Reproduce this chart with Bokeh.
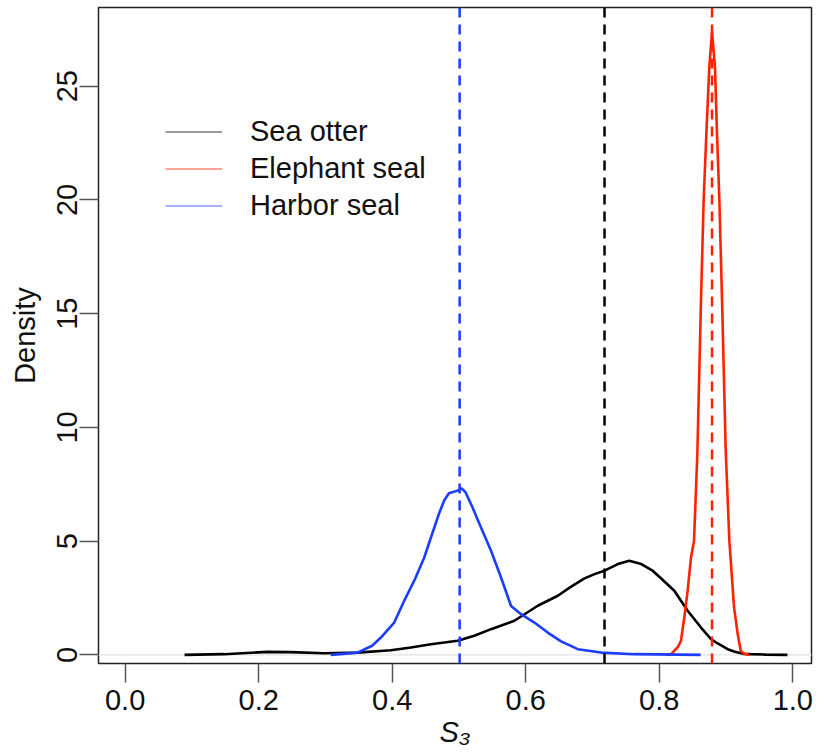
from bokeh.plotting import figure
from bokeh.models import Range1d, FixedTicker, Span, Legend, LegendItem
from bokeh.embed import file_html
from bokeh.resources import INLINE

# ---- data ----
sea_otter_x = [0.089, 0.148, 0.213, 0.248, 0.298, 0.348, 0.398, 0.428, 0.458, 0.498, 0.523,
               0.548, 0.583, 0.618, 0.648, 0.668, 0.688, 0.703, 0.718, 0.738, 0.755, 0.773,
               0.790, 0.8025, 0.8225, 0.8425, 0.8625, 0.8775, 0.8875, 0.9025, 0.912, 0.927,
               0.937, 0.960, 0.992]
sea_otter_y = [0.0, 0.03, 0.13, 0.12, 0.07, 0.10, 0.20, 0.32, 0.47, 0.62, 0.84,
               1.13, 1.50, 2.16, 2.60, 3.00, 3.36, 3.55, 3.70, 3.99, 4.14, 3.99,
               3.70, 3.37, 2.82, 1.94, 1.20, 0.69, 0.50, 0.25, 0.15, 0.04,
               0.03, 0.01, 0.0]

elephant_x = [0.810, 0.818, 0.8225, 0.828, 0.8325, 0.8375, 0.8425, 0.8475, 0.852, 0.857,
              0.8625, 0.8665, 0.8705, 0.875, 0.879, 0.8834, 0.8865, 0.890, 0.894, 0.8995,
              0.905, 0.9085, 0.912, 0.9175, 0.922, 0.927, 0.935]
elephant_y = [0.0, 0.03, 0.18, 0.35, 0.62, 1.64, 2.82, 4.28, 5.0, 8.8,
              15.6, 20.0, 22.9, 25.85, 27.4, 25.85, 22.9, 20.0, 15.6, 9.0,
              5.0, 3.55, 2.08, 0.91, 0.18, 0.05, 0.0]

harbor_x = [0.308, 0.348, 0.370, 0.383, 0.403, 0.418, 0.433, 0.448, 0.458, 0.470, 0.478,
            0.485, 0.498, 0.504, 0.510, 0.520, 0.533, 0.548, 0.563, 0.578, 0.593, 0.613,
            0.633, 0.653, 0.678, 0.713, 0.763, 0.862]
harbor_y = [0.0, 0.10, 0.40, 0.76, 1.42, 2.38, 3.26, 4.28, 5.16, 6.2, 6.80,
            7.10, 7.22, 7.32, 7.14, 6.5, 5.60, 4.58, 3.40, 2.15, 1.79, 1.42,
            0.98, 0.59, 0.25, 0.10, 0.03, 0.0]

series_names = ["Sea otter", "Elephant seal", "Harbor seal"]
series_colors = ["#000000", "#ff2200", "#1a3dff"]
central_values = [0.718, 0.879, 0.501]   # dashed vertical lines

x_ticks = [0.0, 0.2, 0.4, 0.6, 0.8, 1.0]
x_tick_labels = ["0.0", "0.2", "0.4", "0.6", "0.8", "1.0"]
y_ticks = [0, 5, 10, 15, 20, 25]
y_tick_labels = ["0", "5", "10", "15", "20", "25"]
x_label = "S\u2083"
y_label = "Density"

FONT = "Liberation Sans"

p = figure(width=817, height=753, output_backend="svg", toolbar_location=None,
           x_range=Range1d(-0.0399, 1.028), y_range=Range1d(-0.38, 28.46),
           min_border_left=98, min_border_right=6, min_border_top=7, min_border_bottom=90)
p.background_fill_color = "white"
p.border_fill_color = "white"
p.outline_line_color = "#222222"
p.outline_line_width = 1.5
p.xgrid.visible = False
p.ygrid.visible = False

for ax, ticks, labels in ((p.xaxis[0], x_ticks, x_tick_labels), (p.yaxis[0], y_ticks, y_tick_labels)):
    ax.ticker = FixedTicker(ticks=ticks)
    ax.major_label_overrides = {t: l for t, l in zip(ticks, labels)}
    ax.minor_tick_line_color = None
    ax.axis_line_color = None
    ax.major_tick_line_color = "#555555"
    ax.major_tick_line_width = 1.5
    ax.major_tick_in = 0
    ax.major_tick_out = 19
    ax.major_label_text_font = FONT
    ax.major_label_text_font_size = "29px"
    ax.major_label_text_color = "#111111"
    ax.axis_label_text_font = FONT
    ax.axis_label_text_font_size = "29px"
    ax.axis_label_text_color = "#111111"

p.xaxis.major_label_standoff = 7
p.xaxis.axis_label = x_label
p.xaxis.axis_label_text_font_style = "italic"
p.xaxis.axis_label_standoff = 3

p.yaxis.major_label_standoff = 2
p.yaxis.major_label_orientation = "vertical"
p.yaxis.axis_label = y_label
p.yaxis.axis_label_text_font_style = "normal"
p.yaxis.axis_label_standoff = 14

# light zero line
p.add_layout(Span(location=0, dimension="width", line_color="#ebebeb", line_width=2, level="underlay"))

curves = [(sea_otter_x, sea_otter_y), (elephant_x, elephant_y), (harbor_x, harbor_y)]
items = []
for (xs, ys), name, col in zip(curves, series_names, series_colors):
    p.line(xs, ys, line_color=col, line_width=2.6)
    # single-point renderer (draws nothing) used only for the thin legend line
    dummy = p.line(xs[:1], ys[:1], line_color=col, line_width=1.1, line_alpha=0.8)
    items.append(LegendItem(label=name, renderers=[dummy]))

for v, col in zip(central_values, series_colors):
    p.add_layout(Span(location=v, dimension="height", line_color=col, line_width=2.5,
                      line_dash="10 7"))

legend = Legend(items=items, location=(67, 439), orientation="vertical",
                glyph_width=57, glyph_height=37, label_height=37, label_standoff=28,
                spacing=0, padding=0, margin=0,
                label_text_font=FONT, label_text_font_size="29px", label_text_color="#111111",
                border_line_color=None, background_fill_alpha=0)
p.add_layout(legend)

open("out.html", "w").write(file_html(p, INLINE))
